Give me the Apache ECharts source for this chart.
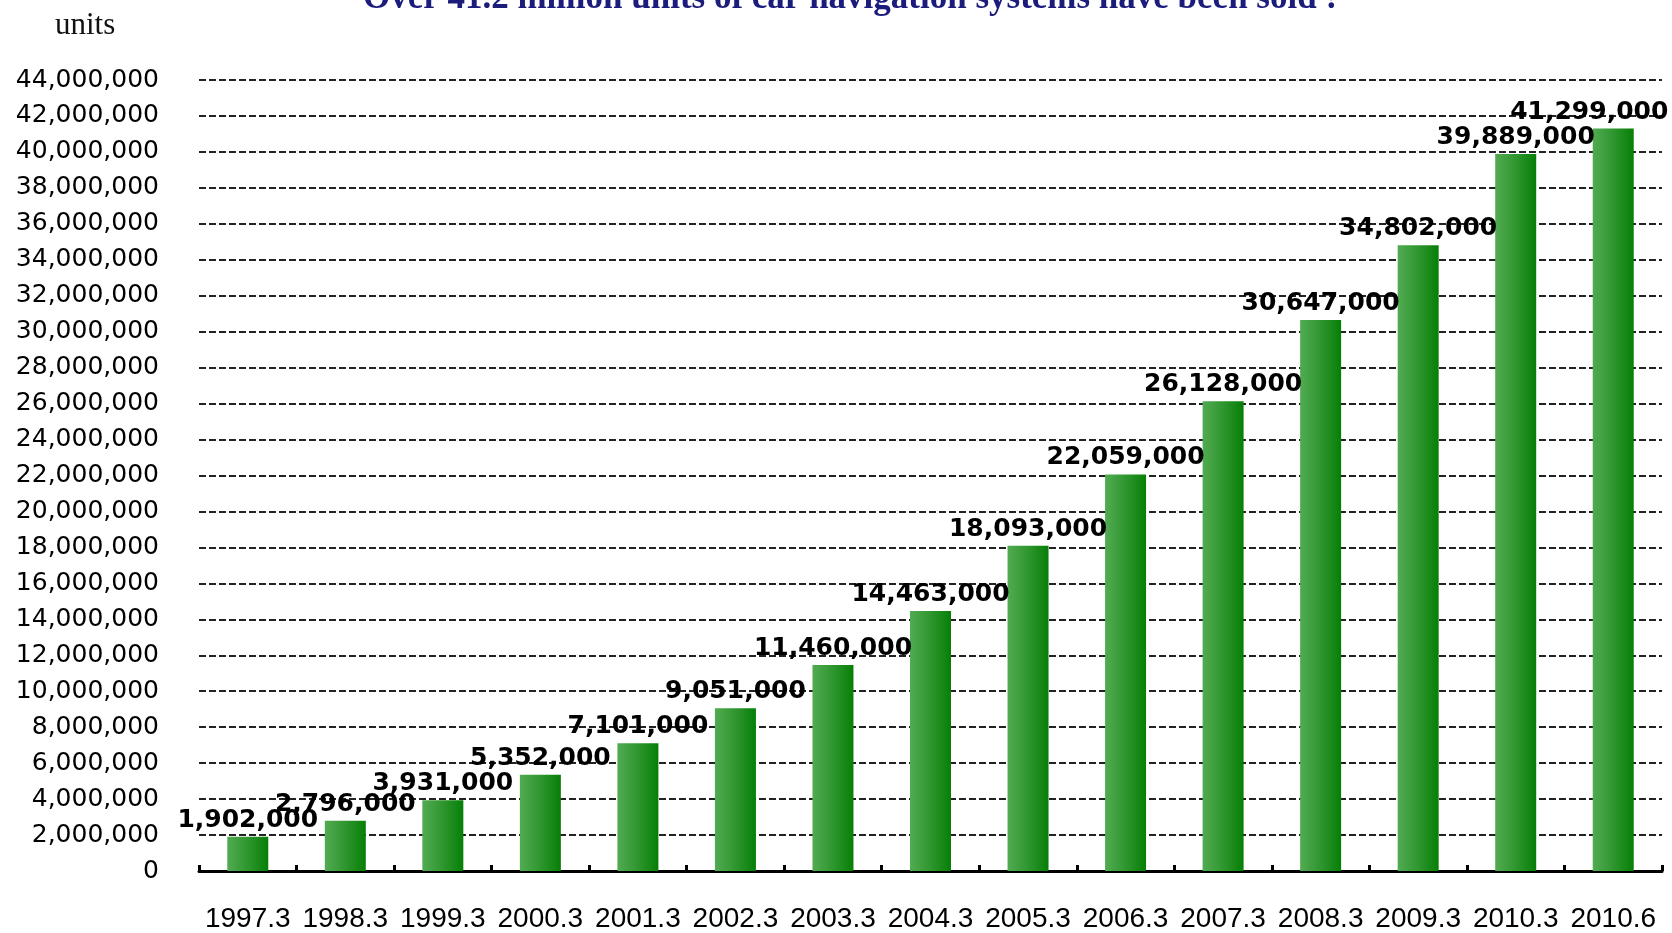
<!DOCTYPE html>
<html>
<head>
<meta charset="utf-8">
<script src="https://cdn.jsdelivr.net/npm/echarts@6/dist/echarts.min.js"></script>
<style>
html,body{margin:0;padding:0;background:#fff;}
#chart{width:1672px;height:933px;}
</style>
</head>
<body>
<div id="chart"></div>
<script>
var titleText = 'Over 41.2 million units of car navigation systems have been sold !';
var unitText = 'units';
var categories = ['1997.3','1998.3','1999.3','2000.3','2001.3','2002.3','2003.3','2004.3','2005.3','2006.3','2007.3','2008.3','2009.3','2010.3','2010.6'];
var unitsSold = [1902000, 2796000, 3931000, 5352000, 7101000, 9051000, 11460000, 14463000, 18093000, 22059000, 26128000, 30647000, 34802000, 39889000, 41299000];
var yMin = 0, yMax = 44000000, yStep = 2000000;

function withCommas(v) {
  return String(v).replace(/\B(?=(\d{3})+(?!\d))/g, ',');
}

// keep the last label inside the canvas (the source nudges it left)
var barData = unitsSold.map(function (v, i) {
  if (i === unitsSold.length - 1) {
    return { value: v, label: { offset: [-24, 0] } };
  }
  return v;
});

var chart = echarts.init(document.getElementById('chart'));
chart.setOption({
  backgroundColor: '#ffffff',
  animation: false,
  title: {
    text: titleText,
    left: 845,
    textAlign: 'center',
    top: -24,
    textStyle: {
      fontFamily: 'Liberation Serif',
      fontWeight: 'bold',
      fontSize: 35,
      color: '#1c1c7c'
    }
  },
  graphic: [{
    type: 'text',
    left: 55,
    top: 10,
    style: {
      text: unitText,
      font: '31px "Liberation Serif"',
      fill: '#111'
    }
  }],
  grid: {
    left: 199,
    right: 10,
    top: 80,
    bottom: 62,
    containLabel: false
  },
  xAxis: {
    type: 'category',
    data: categories,
    axisLine: { show: true, lineStyle: { color: '#000', width: 3 } },
    axisTick: { show: true, inside: true, length: 6, lineStyle: { color: '#000', width: 3 } },
    axisLabel: {
      interval: 0,
      margin: 34,
      fontFamily: 'Liberation Sans',
      fontSize: 28,
      color: '#000'
    },
    splitLine: { show: false }
  },
  yAxis: {
    type: 'value',
    min: yMin,
    max: yMax,
    interval: yStep,
    axisLine: { show: false },
    axisTick: { show: false },
    axisLabel: {
      margin: 40,
      fontFamily: 'DejaVu Sans',
      fontSize: 25,
      color: '#000',
      formatter: function (v) { return withCommas(v); }
    },
    splitLine: {
      show: true,
      lineStyle: { color: '#222', width: 2, type: [7, 3] }
    }
  },
  series: [{
    type: 'bar',
    data: barData,
    barWidth: 41,
    itemStyle: {
      color: new echarts.graphic.LinearGradient(0, 0, 1, 0, [
        { offset: 0, color: '#52ab52' },
        { offset: 0.5, color: '#2f962f' },
        { offset: 1, color: '#067f06' }
      ])
    },
    label: {
      show: true,
      position: 'top',
      distance: 4,
      fontFamily: 'DejaVu Sans',
      fontWeight: 'bold',
      fontSize: 25,
      color: '#000',
      formatter: function (p) { return withCommas(p.value); }
    }
  }]
});
</script>
</body>
</html>
